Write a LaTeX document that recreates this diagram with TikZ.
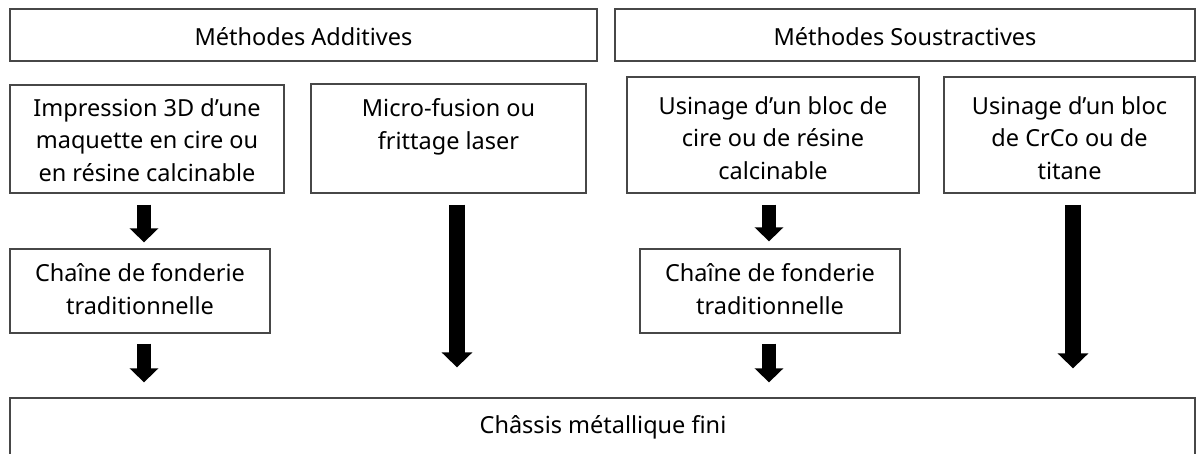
\documentclass[tikz,border=0pt]{standalone}
\usepackage{fontspec}
\setmainfont{Noto Sans}
\usetikzlibrary{arrows.meta}
\tikzset{
  frame/.style={draw=black!72, line width=1.3pt, fill=white, rectangle, inner sep=0pt},
  txt/.style={align=center, inner sep=0pt, font=\fontsize{23.5}{32.5}\selectfont},
  blk/.style={line width=14pt, -{Triangle[width=28pt,length=14pt]}},
  blkl/.style={line width=16pt, -{Triangle[width=30pt,length=15pt]}},
}
\begin{document}
\begin{tikzpicture}[x=1pt,y=-1pt]
\useasboundingbox (0,0) rectangle (1196,453);
\clip (0,0) rectangle (1196,453);
% frames
\node[frame, minimum width=587pt, minimum height=52pt] (add) at (303.5,35) {};
\node[frame, minimum width=580pt, minimum height=52pt] (sou) at (905,35) {};
\node[frame, minimum width=274pt, minimum height=108pt] (imp) at (147,139) {};
\node[frame, minimum width=275pt, minimum height=109pt] (mic) at (448.5,138.5) {};
\node[frame, minimum width=292pt, minimum height=116pt] (usc) at (773,135) {};
\node[frame, minimum width=251pt, minimum height=116pt] (usm) at (1069.5,135) {};
\node[frame, minimum width=260pt, minimum height=84pt] (ch1) at (140,291) {};
\node[frame, minimum width=260pt, minimum height=84pt] (ch2) at (770,291) {};
\node[frame, minimum width=1185pt, minimum height=90pt] (fin) at (602.5,443) {};
% texts
\node[txt] (tadd) at (303.5,37) {Méthodes Additives};
\node[txt] (tsou) at (905,37) {Méthodes Soustractives};
\node[txt] (timp) at (147,140) {Impression 3D d’une\\maquette en cire ou\\en résine calcinable};
\node[txt] (tmic) at (448.5,127) {Micro-fusion ou\\frittage laser};
\node[txt] (tusc) at (773,138) {Usinage d’un bloc de\\cire ou de résine\\calcinable};
\node[txt] (tusm) at (1069.5,138) {Usinage d’un bloc\\de CrCo ou de\\titane};
\node[txt] (tch1) at (140,289) {Chaîne de fonderie\\traditionnelle};
\node[txt] (tch2) at (770,289) {Chaîne de fonderie\\traditionnelle};
\node[txt] (tfin) at (603,427) {Châssis métallique fini};
% arrow end points on the final frame
\coordinate (f1) at (ch1.south |- fin.north);
\coordinate (f2) at (mic.south |- fin.north);
\coordinate (f3) at (ch2.south |- fin.north);
\coordinate (f4) at (usm.south |- fin.north);
% arrows
\draw[blk, shorten <=11pt, shorten >=6pt] ([xshift=-3pt]imp.south) -- ([xshift=4pt]ch1.north);
\draw[blk, shorten <=10pt, shorten >=15pt] ([xshift=4pt]ch1.south) -- ([xshift=4pt]f1);
\draw[blkl, shorten <=11pt, shorten >=30pt] ([xshift=8.5pt]mic.south) -- ([xshift=8.5pt]f2);
\draw[blk, shorten <=11pt, shorten >=7pt] ([xshift=-4pt]usc.south) -- ([xshift=-1pt]ch2.north);
\draw[blk, shorten <=10pt, shorten >=15pt] ([xshift=-1pt]ch2.south) -- ([xshift=-1pt]f3);
\draw[blkl, shorten <=11pt, shorten >=29pt] ([xshift=3.5pt]usm.south) -- ([xshift=3.5pt]f4);
\end{tikzpicture}
\end{document}
